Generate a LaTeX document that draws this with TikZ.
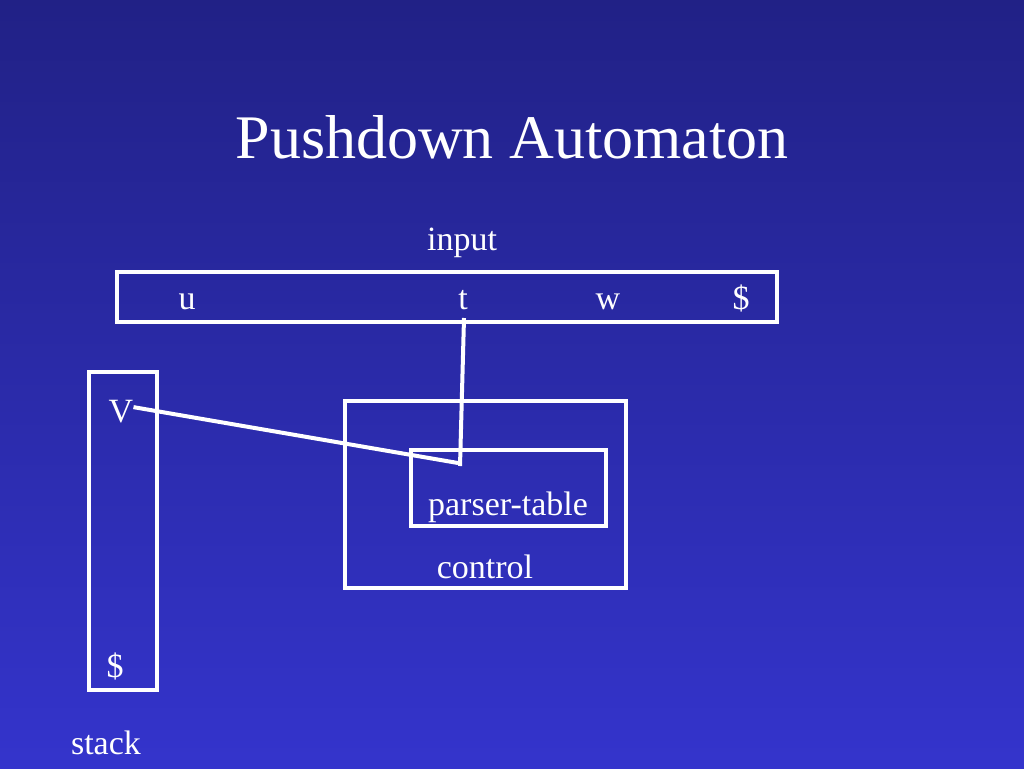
\documentclass[tikz,border=0pt]{standalone}
\usepackage{fontspec}
\setmainfont{Liberation Serif}
\definecolor{slidetop}{HTML}{212186}
\definecolor{slidebot}{HTML}{3434CC}
\begin{document}
\begin{tikzpicture}[x=1pt,y=-1pt,
    box/.style={draw=white,line width=4pt,inner sep=0pt},
    lbl/.style={text=white,font=\fontsize{34}{40}\selectfont,inner sep=0pt,anchor=base},
    wire/.style={draw=white,line width=4pt}]
  \shade[top color=slidetop,bottom color=slidebot] (0,0) rectangle (1024,768);
  \useasboundingbox (0,0) rectangle (1024,768);
  \node[lbl,font=\fontsize{62}{70}\selectfont] (title) at (512,158) {Pushdown Automaton};
  % input tape
  \node[box,minimum width=660pt,minimum height=50pt] (tape) at (447,297) {};
  \node[lbl] (input) at (462,250) {input};
  \node[lbl] (u) at (187,309) {u};
  \node[lbl] (t) at (463,309) {t};
  \node[lbl] (w) at (608,309) {w};
  \node[lbl] (end) at (741,309) {\$};
  % stack
  \node[box,minimum width=68pt,minimum height=318pt] (stackbox) at (123,531) {};
  \node[lbl] (V) at (121,422) {V};
  \node[lbl] (bottom) at (115,677) {\$};
  \node[lbl] (stack) at (106,754) {stack};
  % control
  \node[box,minimum width=281pt,minimum height=187pt] (control) at (485.5,494.5) {};
  \node[box,minimum width=195pt,minimum height=76pt] (table) at (508.5,488) {};
  \node[lbl] (tablelbl) at (508,515) {parser-table};
  \node[lbl] (controllbl) at (485,578) {control};
  \coordinate (tfoot) at (464,318);
  \coordinate (tpin) at (460,466);
  \coordinate (vpin) at (458,463);
  \begin{scope}[wire]
    \draw (tfoot) -- (tpin);
    \draw (V.east) ++(0,-4) -- (vpin);
  \end{scope}
\end{tikzpicture}
\end{document}
